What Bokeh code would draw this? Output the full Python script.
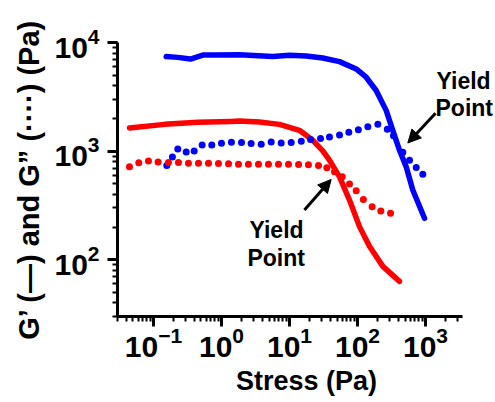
from bokeh.plotting import figure
from bokeh.models import Range1d, LogTicker, Arrow, NormalHead, Label
from bokeh.embed import file_html
from bokeh.resources import INLINE

# ---- data ----
blue_gp_x = [0.154, 0.228, 0.350, 0.531, 0.789, 1.84, 5.68, 10.0, 17.6, 30.9, 54.4, 95.7,
             134, 188, 264, 330, 415, 520, 650, 966]
blue_gp_y = [7450, 7330, 7080, 7700, 7700, 7760, 7450, 7650, 7550, 7240, 6700, 5740,
             4810, 3630, 2380, 1560, 1020, 718, 439, 241]

blue_gpp_x = [0.157, 0.190, 0.228, 0.303, 0.397, 0.520, 0.720, 1.0, 1.40, 1.97, 2.73, 3.84,
              5.38, 7.55, 10.6, 14.9, 20.4, 28.6, 38.7, 54.4, 74.5, 103, 142, 199, 274,
              338, 464, 582, 730, 913]
blue_gpp_y = [739, 887, 1050, 986, 1006, 1143, 1143, 1184, 1209, 1202, 1177, 1159,
              1217, 1191, 1202, 1235, 1280, 1309, 1353, 1411, 1494, 1581, 1685, 1769, 1592,
              1393, 979, 827, 708, 615]

red_gp_x = [0.0444, 0.145, 0.448, 1.39, 1.84, 3.62, 7.13, 14.0, 22.0, 30.9, 38.7, 54.4,
            76.3, 107, 150, 236, 415]
red_gp_y = [1636, 1769, 1846, 1884, 1897, 1857, 1769, 1559, 1262, 1006, 827, 581,
            355, 202, 133, 86.9, 63.2]

red_gpp_x = [0.0444, 0.0608, 0.0844, 0.117, 0.166, 0.233, 0.327, 0.459, 0.644, 0.903, 1.27,
             1.78, 2.49, 3.5, 4.91, 6.89, 9.67, 13.6, 19.0, 26.7, 35.4, 45.9, 59.6, 76.3,
             95.7, 122, 164, 220, 306]
red_gpp_y = [718, 782, 815, 798, 788, 788, 776, 776, 776, 771, 765,
             760, 760, 760, 760, 760, 760, 755, 749, 739, 703, 646, 581, 498,
             432, 360, 308, 282, 268]

x_label = "Stress (Pa)"
y_label = "G\u2019 (\u2014) and G\u201d (\u00b7\u00b7\u00b7\u00b7) (Pa)"
annot_lines = ["Yield", "Point"]

x_axis_extent = (0.0296, 3503)
y_axis_extent = (30, 10000)

FONT = "Liberation Sans"
BLUE = "#0000FF"
RED = "#FF0000"

p = figure(width=495, height=402, x_axis_type="log", y_axis_type="log",
           x_range=Range1d(0.0296, 10690), y_range=Range1d(30, 10050),
           output_backend="svg", toolbar_location=None,
           min_border_left=117, min_border_right=0, min_border_top=42, min_border_bottom=86)
p.outline_line_color = None
p.grid.visible = False
p.background_fill_color = "white"
p.border_fill_color = "white"

for ax in (p.xaxis[0], p.yaxis[0]):
    ax.ticker = LogTicker(num_minor_ticks=10)
    ax.axis_line_width = 3
    ax.axis_line_color = "black"
    ax.major_tick_line_width = 3
    ax.minor_tick_line_width = 2
    ax.major_tick_out = 10
    ax.major_tick_in = 0
    ax.minor_tick_out = 5
    ax.minor_tick_in = 0
    ax.major_label_text_font = FONT
    ax.major_label_text_font_style = "bold"
    ax.major_label_text_font_size = "30px"
    ax.major_label_text_color = "black"
    ax.axis_label_text_font = FONT
    ax.axis_label_text_font_style = "bold"
    ax.axis_label_text_color = "black"

p.xaxis.bounds = x_axis_extent
p.yaxis.bounds = y_axis_extent
p.xaxis.axis_label = x_label
p.yaxis.axis_label = y_label
p.xaxis.axis_label_text_font_size = "27px"
p.yaxis.axis_label_text_font_size = "29px"
p.xaxis.major_label_standoff = 0
p.yaxis.major_label_standoff = 8
p.xaxis.axis_label_standoff = 6
p.yaxis.axis_label_standoff = 6

# solid G'
p.line(blue_gp_x, blue_gp_y, line_color=BLUE, line_width=5.5, line_cap="round", line_join="round")
p.line(red_gp_x, red_gp_y, line_color=RED, line_width=5.5, line_cap="round", line_join="round")
# dotted G''
p.scatter(blue_gpp_x, blue_gpp_y, marker="circle", size=7, fill_color=BLUE, line_color=None)
p.scatter(red_gpp_x, red_gpp_y, marker="circle", size=7, fill_color=RED, line_color=None)

# yield point annotations
lab = dict(text_font=FONT, text_font_style="bold", text_color="black",
           text_baseline="alphabetic", text_align="left", text_font_size="23px")
for (xx, yy, t) in zip([1452, 1403], [4477, 2480], annot_lines):
    p.add_layout(Label(x=xx, y=yy, text=t, **lab))
for (xx, yy, t) in zip([2.58, 2.41], [188, 104], annot_lines):
    p.add_layout(Label(x=xx, y=yy, text=t, **lab))

head = dict(fill_color="black", line_color="black", size=13)
p.add_layout(Arrow(x_start=1403, y_start=2244, x_end=549, y_end=1191,
                   line_width=3, line_color="black", end=NormalHead(**head)))
p.add_layout(Arrow(x_start=16.6, y_start=288, x_end=41.0, y_end=550,
                   line_width=3, line_color="black", end=NormalHead(**head)))

open("out.html", "w").write(file_html(p, INLINE))
